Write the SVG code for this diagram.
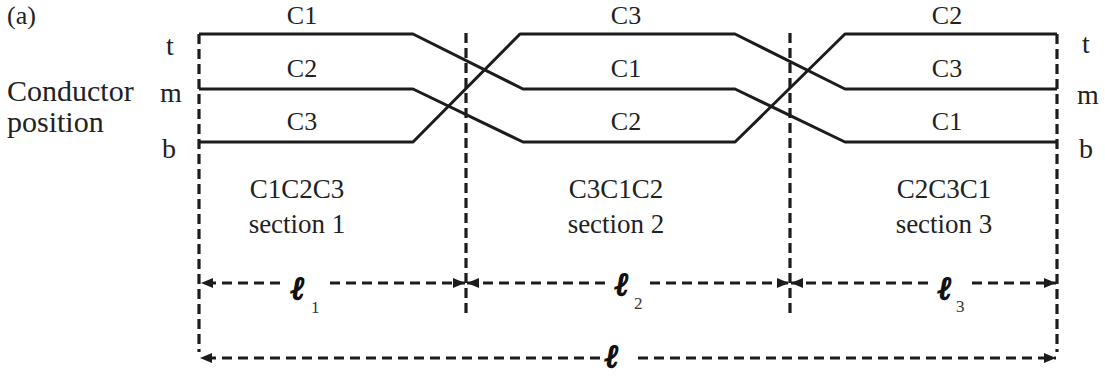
<svg xmlns="http://www.w3.org/2000/svg" width="1105" height="378" viewBox="0 0 1105 378">
  <style>
    text { font-family: 'Liberation Serif', 'DejaVu Serif', serif; fill: #222; }
    .lbl { font-size: 26px; text-anchor: middle; }
    .sec { font-size: 27px; text-anchor: middle; }
    .side { font-size: 28px; }
    .title { font-size: 30px; }
    .tag { font-size: 26px; }
    .ell { font-size: 32px; font-weight: bold; font-style: italic; fill: #111; stroke: #111; stroke-width: 1.6; }
    .sub { font-size: 17px; fill: #333; }
    .cond { fill: none; stroke: #1c1c1c; stroke-width: 3; stroke-linejoin: round; }
    .div { stroke: #1c1c1c; stroke-width: 3.2; stroke-dasharray: 10 5; fill: none; }
    .dim { stroke: #1c1c1c; stroke-width: 3; stroke-dasharray: 10 6; fill: none; }
  </style>
  <defs>
    <marker id="arr" viewBox="0 0 12 10" refX="12" refY="5" markerWidth="12" markerHeight="10" markerUnits="userSpaceOnUse" orient="auto-start-reverse">
      <path d="M0,0 L12,5 L0,10 z" fill="#1c1c1c"/>
    </marker>
  </defs>

  <rect width="1105" height="378" fill="#fff"/>

  <!-- panel tag and axis caption -->
  <g id="caption">
    <text class="tag" x="7" y="24">(a)</text>
    <text class="title" x="7" y="101">Conductor</text>
    <text class="title" x="7" y="132">position</text>
  </g>

  <!-- position letters at both ends -->
  <g id="positions" class="side">
    <text x="166" y="55">t</text>
    <text x="160" y="102">m</text>
    <text x="162" y="158">b</text>
    <text x="1082" y="53">t</text>
    <text x="1077" y="104">m</text>
    <text x="1079" y="158">b</text>
  </g>

  <!-- section boundaries -->
  <g id="boundaries">
    <path class="div" d="M199,34 V352"/>
    <path class="div" d="M466,33 V315"/>
    <path class="div" d="M790,33 V315"/>
    <path class="div" d="M1057,34 V352"/>
  </g>

  <!-- conductor routes through the three transposition sections -->
  <g id="conductors">
    <path id="cond-C1" class="cond" d="M199,34 H413 L523,89 H735 L845,142 H1057"/>
    <path id="cond-C2" class="cond" d="M199,89 H413 L523,142 H735 L845,34 H1057"/>
    <path id="cond-C3" class="cond" d="M199,142 H413 L520,34 H735 L845,89 H1057"/>
  </g>

  <!-- conductor names per position -->
  <g id="conductor-labels" class="lbl">
    <text x="302" y="24">C1</text>
    <text x="302" y="77">C2</text>
    <text x="302" y="130">C3</text>
    <text x="626" y="24">C3</text>
    <text x="626" y="77">C1</text>
    <text x="626" y="130">C2</text>
    <text x="947" y="24">C2</text>
    <text x="947" y="77">C3</text>
    <text x="947" y="130">C1</text>
  </g>

  <!-- section captions -->
  <g id="section-1" class="sec">
    <text x="297" y="198">C1C2C3</text>
    <text x="297" y="233">section 1</text>
  </g>
  <g id="section-2" class="sec">
    <text x="616" y="198">C3C1C2</text>
    <text x="616" y="233">section 2</text>
  </g>
  <g id="section-3" class="sec">
    <text x="944" y="198">C2C3C1</text>
    <text x="944" y="233">section 3</text>
  </g>

  <!-- section lengths -->
  <g id="dimensions">
    <path class="dim" d="M280,283 H201" marker-end="url(#arr)"/>
    <path class="dim" d="M330,283 H465" marker-end="url(#arr)"/>
    <path class="dim" d="M605,283 H467" marker-end="url(#arr)"/>
    <path class="dim" d="M650,283 H789" marker-end="url(#arr)"/>
    <path class="dim" d="M928,283 H791" marker-end="url(#arr)"/>
    <path class="dim" d="M972,283 H1056" marker-end="url(#arr)"/>
    <path class="dim" d="M600,358 H200" marker-end="url(#arr)"/>
    <path class="dim" d="M638,358 H1056" marker-end="url(#arr)"/>
  </g>
  <g id="dimension-labels">
    <text class="ell" x="291" y="299">ℓ</text>
    <text class="sub" x="311" y="313">1</text>
    <text class="ell" x="615" y="295">ℓ</text>
    <text class="sub" x="634" y="309">2</text>
    <text class="ell" x="938" y="299">ℓ</text>
    <text class="sub" x="956" y="312">3</text>
    <text class="ell" x="605" y="367">ℓ</text>
  </g>
</svg>
